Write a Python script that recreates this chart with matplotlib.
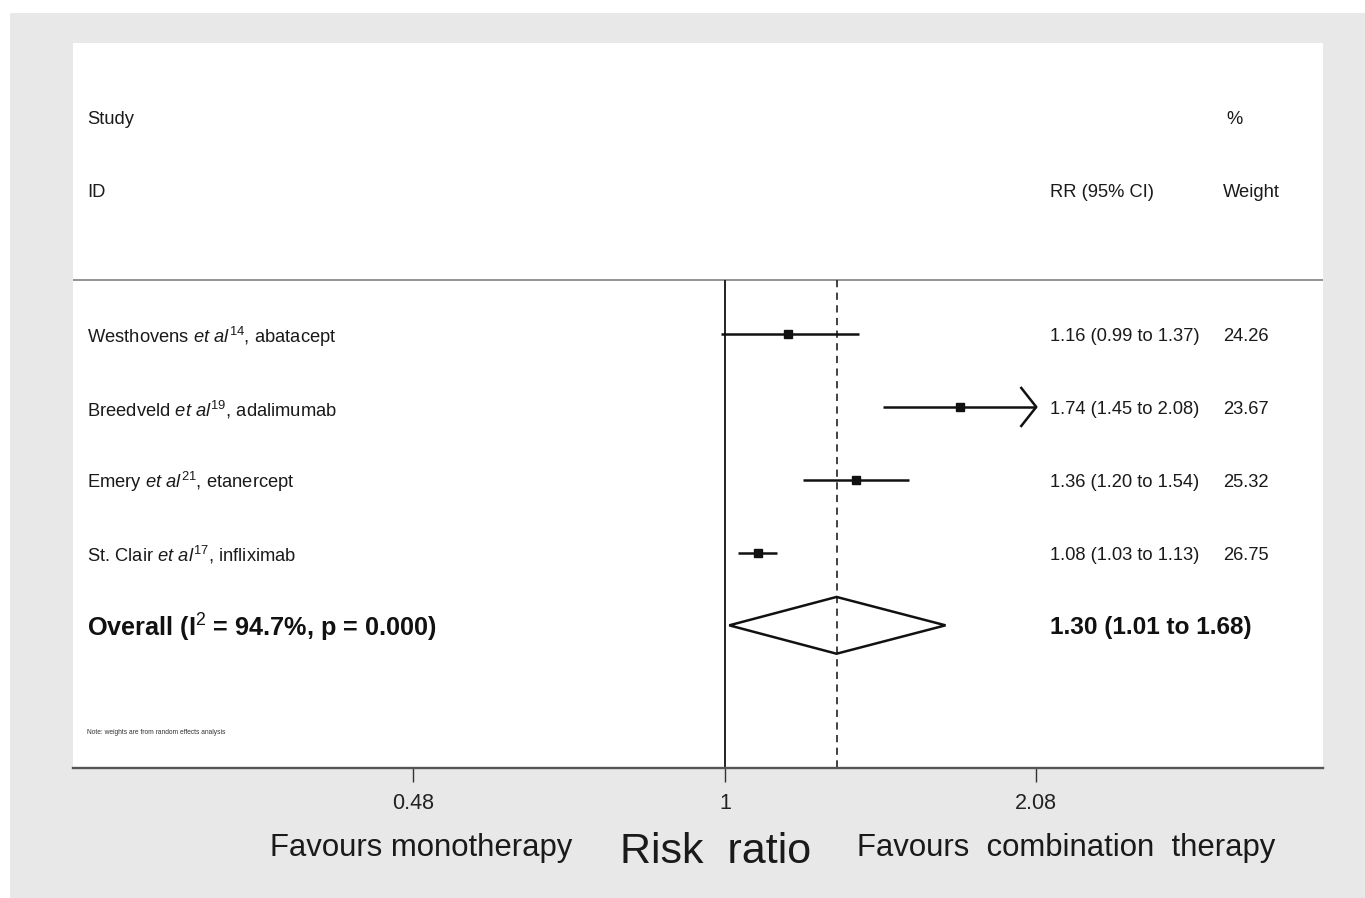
import matplotlib
matplotlib.use('Agg')
import matplotlib.pyplot as plt
import matplotlib.transforms as mtransforms
from matplotlib.patches import Rectangle, Polygon
from matplotlib.ticker import NullLocator
import numpy as np

# ---------------- data ----------------
studies = ["Westhovens", "Breedveld", "Emery", "St. Clair"]
refs = ["14", "19", "21", "17"]
drugs = ["abatacept", "adalimumab", "etanercept", "infliximab"]
rr = [1.16, 1.74, 1.36, 1.08]
ci_lo = [0.99, 1.45, 1.20, 1.03]
ci_hi = [1.37, 2.08, 1.54, 1.13]
weights = [24.26, 23.67, 25.32, 26.75]
overall_rr = 1.30
overall_lo = 1.01
overall_hi = 1.68
i2 = 94.7
p_value = 0.000
xticks = [0.48, 1, 2.08]
xtick_labels = ["0.48", "1", "2.08"]
clip_hi = 2.08

# ---------------- style ----------------
plt.rcParams['font.family'] = ['Liberation Sans', 'DejaVu Sans']
plt.rcParams['mathtext.fontset'] = 'custom'
plt.rcParams['mathtext.rm'] = 'Liberation Sans'
plt.rcParams['mathtext.it'] = 'Liberation Sans:italic'
plt.rcParams['mathtext.bf'] = 'Liberation Sans:bold'

W, H = 1365, 898
fig = plt.figure(figsize=(W / 100, H / 100), dpi=100)
fig.patch.set_facecolor('white')
fig.patches.append(Rectangle((10 / W, 0), 1 - 10 / W, 1 - 13 / H,
                             transform=fig.transFigure, facecolor='#e8e8e8',
                             edgecolor='none', zorder=-10))

ax = fig.add_axes([73 / W, (H - 768) / H, 1250 / W, 725 / H])
ax.set_facecolor('white')
ax.set_xscale('log')
ax.set_xlim(0.2156, 4.084)
ax.set_ylim(6.96, -3.0)
for s in ['top', 'left', 'right']:
    ax.spines[s].set_visible(False)
ax.spines['bottom'].set_color('#555555')
ax.spines['bottom'].set_linewidth(1.7)
ax.set_xticks(xticks)
ax.set_xticklabels(xtick_labels)
ax.xaxis.set_minor_locator(NullLocator())
ax.tick_params(axis='x', direction='out', length=10, width=1.0, color='#333333',
               pad=8, labelsize=15.5, labelcolor='#222222')
ax.set_yticks([])

line_top = 0.26
ax.axhline(line_top, color='#8a8a8a', lw=1.3)
ax.vlines(1, line_top, 6.96, color='#222222', lw=1.4)
ax.vlines(overall_rr, line_top, 6.96, color='#333333', lw=1.3,
          linestyles=(0, (4, 3)))

ys = np.arange(1, len(studies) + 1)
px_per_log = 425.0
px_per_row = 72.8
for y, r, lo, hi, w in zip(ys, rr, ci_lo, ci_hi, weights):
    hi_c = min(hi, clip_hi)
    ax.plot([lo, hi_c], [y, y], color='#111111', lw=1.8, solid_capstyle='butt')
    ax.plot([r], [y], marker='s', color='#111111', markersize=5.6 * np.sqrt(w / 25.0),
            linestyle='none')
    if hi >= clip_hi:
        bx = hi_c * np.exp(-15 / px_per_log)
        dy = 19 / px_per_row
        ax.plot([bx, hi_c, bx], [y - dy, y, y + dy], color='#111111', lw=1.8)

# diamond
oy = len(studies) + 1
dh = 0.39
ax.add_patch(Polygon([(overall_lo, oy), (overall_rr, oy - dh), (overall_hi, oy),
                      (overall_rr, oy + dh)], closed=True, facecolor='none',
                     edgecolor='#111111', lw=1.8, zorder=3))

# ---------------- texts ----------------
tr = mtransforms.blended_transform_factory(ax.transAxes, ax.transData)
def axfx(px):
    return (px - 73) / 1250.0

toff = 0.035  # small downward nudge of text baselines
tc = '#1a1a1a'
fs = 13.2
ax.text(axfx(87), -2 + 0.05, "Study", transform=tr, fontsize=fs, va='center', ha='left', color=tc)
ax.text(axfx(87), -1 + 0.05, "ID", transform=tr, fontsize=fs, va='center', ha='left', color=tc)
ax.text(axfx(1226), -2 + 0.05, "%", transform=tr, fontsize=fs, va='center', ha='left', color=tc)
ax.text(axfx(1050), -1 + 0.05, "RR (95% CI)", transform=tr, fontsize=fs, va='center', ha='left', color=tc)
ax.text(axfx(1223), -1 + 0.05, "Weight", transform=tr, fontsize=fs, va='center', ha='left', color=tc)

for y, st, rf, dr, r, lo, hi, w in zip(ys, studies, refs, drugs, rr, ci_lo, ci_hi, weights):
    lab = st + r" $\mathit{et\ al}^{\mathrm{" + rf + "}}$, " + dr
    ax.text(axfx(87), y + toff, lab, transform=tr, fontsize=fs, va='center', ha='left', color=tc)
    ax.text(axfx(1050), y + toff, f"{r:.2f} ({lo:.2f} to {hi:.2f})", transform=tr,
            fontsize=fs, va='center', ha='left', color=tc)
    ax.text(axfx(1223), y + toff, f"{w:.2f}", transform=tr, fontsize=fs, va='center', ha='left', color=tc)

ax.text(axfx(87), oy + 0.04, r"Overall (I$^{\mathrm{2}}$ = " + f"{i2:.1f}%, p = {p_value:.3f})",
        transform=tr, fontsize=18.2, fontweight='bold', va='center', ha='left', color='#111111')
ax.text(axfx(1050), oy + 0.03, f"{overall_rr:.2f} ({overall_lo:.2f} to {overall_hi:.2f})",
        transform=tr, fontsize=17.6, fontweight='bold', va='center', ha='left', color='#111111')

ax.text(axfx(87), 6.47, "Note: weights are from random effects analysis", transform=tr,
        fontsize=4.8, va='center', ha='left', color='#333333')

def fx(px):
    return px / W
def fy(py):
    return 1 - py / H

fig.text(fx(270), fy(848), "Favours monotherapy", fontsize=22.4, va='center', ha='left', color=tc)
fig.text(fx(620), fy(852), "Risk  ratio", fontsize=31, va='center', ha='left', color=tc)
fig.text(fx(857), fy(848), "Favours  combination  therapy", fontsize=22.4, va='center', ha='left', color=tc)

fig.savefig('out.png', dpi=100, facecolor=fig.get_facecolor())
